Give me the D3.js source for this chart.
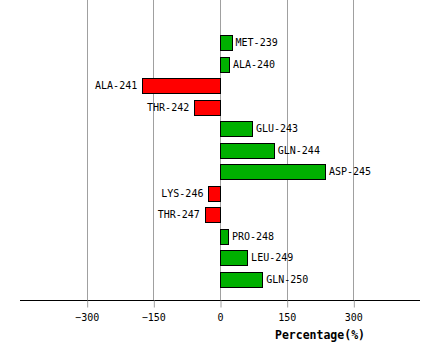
<!DOCTYPE html>
<html><head><meta charset="utf-8">
<script src="https://cdn.jsdelivr.net/npm/d3@7"></script>
<style>body{margin:0;background:#fff}</style>
</head><body>
<script>
const categories = ["MET-239","ALA-240","ALA-241","THR-242","GLU-243","GLN-244","ASP-245","LYS-246","THR-247","PRO-248","LEU-249","GLN-250"];
const values = [26, 20, -175, -58, 72, 121, 236, -26, -34, 18, 61, 95];
const tickValues = [-300, -150, 0, 150, 300];

const W = 440, H = 360;
const svg = d3.select("body").append("svg").attr("width", W).attr("height", H);
const x = d3.scaleLinear().domain([-450, 450]).range([20, 420]);
const y = d3.scaleBand().domain(categories).range([32, 290]).paddingInner(0.3).paddingOuter(0.15);
const font = "'DejaVu Sans Mono', monospace";

// grid lines
svg.append("g").selectAll("line").data(tickValues).join("line")
  .attr("x1", d => Math.round(x(d)) + 0.5).attr("x2", d => Math.round(x(d)) + 0.5)
  .attr("y1", 0).attr("y2", 300)
  .attr("stroke", "#a0a0a0").attr("stroke-width", 1);

// axis
const axis = d3.axisBottom(x).tickValues(tickValues).tickSize(7).tickPadding(6).tickFormat(d3.format("d"));
const ag = svg.append("g").attr("transform", "translate(0,300.5)").call(axis);
ag.select(".domain").attr("stroke", "#000").attr("d", "M20,0H420");
ag.selectAll(".tick line").attr("stroke", "#a0a0a0").attr("transform", "translate(0.5,0)");
ag.selectAll(".tick text").attr("font-family", font).attr("font-size", 10).attr("fill", "#000");

svg.append("text").attr("x", 320).attr("y", 339).attr("text-anchor", "middle")
  .attr("font-family", font).attr("font-size", 11.5).attr("font-weight", "bold").text("Percentage(%)");

// bars
const rows = categories.map((c, i) => ({c, v: values[i]}));
svg.append("g").selectAll("rect").data(rows).join("rect")
  .attr("x", d => Math.round(Math.min(x(0), x(d.v))) + 0.5)
  .attr("y", d => Math.round(y(d.c)) + 0.5)
  .attr("width", d => Math.round(Math.abs(x(d.v) - x(0))))
  .attr("height", Math.round(y.bandwidth()))
  .attr("fill", d => d.v >= 0 ? "#00b000" : "#ff0000")
  .attr("stroke", "#000").attr("stroke-width", 1);

svg.append("g").selectAll("text").data(rows).join("text")
  .attr("x", d => d.v >= 0 ? x(d.v) + 4 : x(d.v) - 5)
  .attr("y", d => y(d.c) + y.bandwidth() / 2)
  .attr("dy", "0.35em")
  .attr("text-anchor", d => d.v >= 0 ? "start" : "end")
  .attr("font-family", font).attr("font-size", 10).attr("fill", "#000")
  .text(d => d.c);
</script>
</body></html>
